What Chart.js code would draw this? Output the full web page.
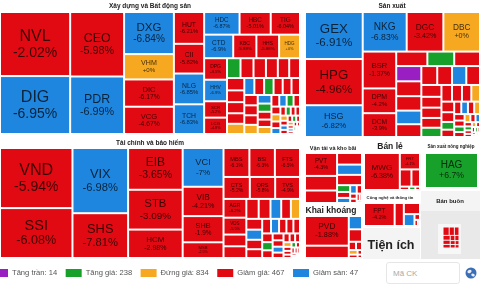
<!DOCTYPE html>
<html>
<head>
<meta charset="utf-8">
<script src="https://cdn.jsdelivr.net/npm/chart.js@4.4.1/dist/chart.umd.min.js"></script>
<style>
html, body { margin: 0; padding: 0; background: #fff; }
#wrap { position: relative; width: 480px; height: 288px; overflow: hidden; }
#ma { position: absolute; left: 386px; top: 262px; width: 74px; height: 22px; box-sizing: border-box;
      border: 1px solid #e6e6e6; border-radius: 3px; padding: 0 0 0 6px; font: 8px "Liberation Sans", Arial, sans-serif; color: #555; outline: none; }
#ma::placeholder { color: #aaa; }
</style>
</head>
<body>
<div id="wrap">
  <canvas id="heatmap" width="480" height="288"></canvas>
  <input id="ma" placeholder="Mã CK">
</div>
<script>
// Xây dựng và Bất động sản
var xdCodes = ['NVL','DIG','CEO','PDR','DXG','VHM','DIC','VCG','HUT','CII','NLG','TCH','HDC','HBC','TIG','CTD','KBC','HHS','HDG','DPG','HHV','SCR','LCG'];
var xdSizes = [4200,3800,3250,2900,1960,1180,1270,1270,900,840,870,840,750,660,620,640,510,500,460,460,460,350,350,
  250,240,230,220,210,200,200,190,180,170,165,160,155,150,145,140,135,130,125,120,
  115,110,105,100,95,90,85,80,75,70,65,60,55,50,45,42,40,38,35,32,
  30,28,26,24,22,20,18,16,15,14,12,10,9,8,7,6,5];
var xdChanges = [-2.02,-6.95,-5.98,-6.99,-6.84,0,-6.17,-4.67,-6.21,-5.82,-6.85,-6.83,-6.87,-5.01,-6.04,-6.9,-5.88,-5.88,0,-4.5,-6.9,-5.2,-4.8,
  1.2,-4.1,-3.8,-5.2,-4.4,-3.9,-4.6,-5.1,-3.3,-4.2,0,-6.9,-3.5,1.5,-4.0,-2.8,-4.9,-3.1,-5.5,-3.6,
  0,-6.9,2.1,-4.3,-3.2,0,-5.0,-6.9,1.1,-2.9,-4.7,0,-3.4,-6.9,-2.5,1.8,-4.5,-3.0,0,-5.3,
  -6.9,-2.2,-3.7,0.5,-4.8,0,-3.9,-6.9,-2.6,-4.1,-3.5,1.0,0,-6.9,-3.2,-2.7,0.9];
var xdStrips = [2,2,4,4,3,4,4];

// Tài chính và bảo hiểm
var tcCodes = ['VND','SSI','VIX','SHS','EIB','STB','HCM','VCI','VIB','SHB','MSB','MBS','BSI','FTS','CTS','ORS','TVS','AGR','VDS','BVS','APS','EVF','TCI'];
var tcSizes = [4070,3380,3390,2330,2130,2030,1450,1480,1120,1000,600,700,690,680,540,520,510,400,360,250,250,230,220,
  200,180,170,160,150,140,130,120,110,100,95,90,85,80,75,70,65,60,55,50,45,40,35,30,28,25,22,20,18,16,14,12,10,8,6];
var tcChanges = [-5.94,-6.08,-6.98,-7.81,-3.65,-3.09,-2.98,-7,-4.21,-1.9,-2.5,-6.1,-6.3,-6.5,-5.2,-5.8,-4.9,-6.2,-5.5,-6.6,-4.4,-6.9,-3.8,
  -6.9,-3.1,0,-4.2,-6.9,-2.7,-3.6,-5.0,-6.9,-2.9,-3.3,-4.5,-2.1,1.2,-3.9,-4.8,-2.4,-6.9,-3.0,-4.1,-2.6,-3.5,0,-4.0,-2.2,-3.8,1.0,-2.9,-3.4,
  -3.1,-4.4,-2.0,-6.9,-3.7,-2.5];
var tcStrips = [2,2,3,4,3,3];

// Sản xuất
var sxCodes = ['GEX','HPG','HSG','NKG','DGC','DBC','BSR','DPM','DCM','PLX','HT1','MSN','BMP','PHR','DHC','VNM','SAB','GVR'];
var sxSizes = [2620,2570,1770,1680,1400,1400,1190,800,770,435,375,360,
  370,360,350,330,310,290,270,260,250,230,210,200,190,180,170,160,150,140,130,120,
  95,90,85,80,75,70,65,60,55,50,45,40,35,30,28,25,22,20,18,16,14,12,10,8,7,6,5];
var sxChanges = [-6.91,-4.96,-6.82,-6.83,-3.42,0,-1.37,-4.2,-3.9,-3.5,1.8,-2.9,
  6.96,-4.1,-3.3,-6.9,-2.7,-4.4,-3.0,-6.9,-3.6,-2.5,-4.0,-3.1,-2.2,1.5,-3.7,-2.8,-4.3,0,-3.2,-2.6,
  2.0,-3.9,-2.4,-6.9,-3.0,0,-2.1,-3.5,1.2,-2.7,0,-3.8,-6.9,-2.3,0.8,-3.1,-2.9,0,-4.0,-2.5,1.0,-3.3,-2.0,-3.6,0,-2.8,-3.0];
var sxStrips = [3,3,3,3];

// small sectors
var vtCodes = ['PVT','HAH','GMD','VSC','HVN'];
var vtSizes = [660,420,360,260,230,230,80,70,60,50,40,30,25,20,15,10];
var vtChanges = [-4.3,-5.1,-5.6,-4.8,-6.9,-5.0,1.2,-3.9,-6.9,-6.9,-3.1,-2.5,-4.0,-3.3,-2.1,-3.0];
var vtStrips = [3,1,1,1];
var kkCodes = ['PVD','PVS','KSB','DHA'];
var kkSizes = [1300,540,176,165,60,50,40,30,20,15];
var kkChanges = [-1.88,-4.5,-6.9,-3.8,-2.9,-3.3,0,-2.2,-3.1,-2.0];
var kkStrips = [2];
var blCodes = ['MWG','FRT','DGW','PET'];
var blSizes = [1260,315,190,140,30,20,15];
var blChanges = [-6.38,-4.1,-5.3,-4.6,-3.0,1.4,-2.5];
var blStrips = [1,1,2];
var nnCodes = ['HAG'];
var nnSizes = [1855];
var nnChanges = [6.7];
var cnCodes = ['FPT','CMG','ELC','ITD'];
var cnSizes = [667,200,170,120,30,20,12];
var cnChanges = [-4.2,-5.0,-3.6,-6.9,-3.1,-2.4,-2.0];
var cnStrips = [1,1,1,1];
var bbThumbSizes = [60,50,45,40,35,30,28,25,22,20,18,15];

var hnxCodes = ['CEO','SHS','HUT','PVS','TIG','MBS','BVS','APS','EVF'];

var legendLabels = ['Tăng trần: 14','Tăng giá: 238','Đứng giá: 834','Giảm giá: 467','Giảm sàn: 47'];
var legendColors = ['#9a1fc2','#17a02a','#f6a821','#e20a12','#1f86e0'];

var cPurple = '#9a1fc2', cGreen = '#17a02a', cOrange = '#f6a821', cRed = '#e20a12', cBlue = '#1f86e0';
var FONT = '"Liberation Sans", Arial, sans-serif';

var panels = [
  {title: 'Xây dựng và Bất động sản', tx: 150, ty: 6, tf: 6.5, x0: 0, y0: 12, x1: 300, y1: 134, codes: xdCodes, sizes: xdSizes, changes: xdChanges, strips: xdStrips},
  {title: 'Tài chính và bảo hiểm', tx: 150, ty: 143, tf: 6.5, x0: 0, y0: 148, x1: 300, y1: 258, codes: tcCodes, sizes: tcSizes, changes: tcChanges, strips: tcStrips},
  {title: 'Sản xuất', tx: 392, ty: 6, tf: 6.5, x0: 305, y0: 12, x1: 480, y1: 137, codes: sxCodes, sizes: sxSizes, changes: sxChanges, strips: sxStrips},
  {title: 'Vận tải và kho bãi', tx: 333, ty: 148, tf: 5.5, x0: 305, y0: 153, x1: 362, y1: 203, codes: vtCodes, sizes: vtSizes, changes: vtChanges, strips: vtStrips},
  {title: 'Khai khoáng', tx: 331, ty: 211, tf: 8.5, x0: 305, y0: 216, x1: 362, y1: 258, codes: kkCodes, sizes: kkSizes, changes: kkChanges, strips: kkStrips},
  {title: 'Bán lẻ', tx: 390, ty: 147, tf: 8.5, x0: 364, y0: 153, x1: 420, y1: 190, codes: blCodes, sizes: blSizes, changes: blChanges, strips: blStrips},
  {title: 'Sản xuất nông nghiệp', tx: 451, ty: 147, tf: 4.5, x0: 425, y0: 153, x1: 478, y1: 188, codes: nnCodes, sizes: nnSizes, changes: nnChanges, strips: []},
  {title: 'Công nghệ và thông tin', tx: 390, ty: 198, tf: 4.2, x0: 364, y0: 203, x1: 420, y1: 226, codes: cnCodes, sizes: cnSizes, changes: cnChanges, strips: cnStrips}
];

// d3 style squarify (golden ratio), keeps input order; first rows can be given a fixed length
var phi = (1 + Math.sqrt(5)) / 2;
function squarify(values, x0, y0, x1, y1, strips) {
  strips = strips || [];
  var out = [], i0 = 0, i1 = 0, n = values.length, row = 0;
  var value = values.reduce(function(a, b) { return a + b; }, 0);
  while (i0 < n) {
    var dx = x1 - x0, dy = y1 - y0, sumValue, v;
    if (row < strips.length) {
      i1 = Math.min(n, i0 + strips[row]);
      sumValue = 0;
      for (var j = i0; j < i1; j++) sumValue += values[j];
    } else {
      sumValue = values[i1++];
      var minValue = sumValue, maxValue = sumValue;
      var alpha = Math.max(dy / dx, dx / dy) / (value * phi);
      var beta = sumValue * sumValue * alpha;
      var minRatio = Math.max(maxValue / beta, beta / minValue);
      for (; i1 < n; ++i1) {
        v = values[i1];
        sumValue += v;
        if (v < minValue) minValue = v;
        if (v > maxValue) maxValue = v;
        beta = sumValue * sumValue * alpha;
        var newRatio = Math.max(maxValue / beta, beta / minValue);
        if (newRatio > minRatio) { sumValue -= v; break; }
        minRatio = newRatio;
      }
    }
    var k, pos;
    if (dx < dy) {
      var ny = i1 >= n ? y1 : y0 + dy * sumValue / value;
      pos = x0;
      for (k = i0; k < i1; k++) {
        var w = dx * values[k] / sumValue;
        out[k] = {x0: pos, y0: y0, x1: pos + w, y1: ny};
        pos += w;
      }
      y0 = ny;
    } else {
      var nx = i1 >= n ? x1 : x0 + dx * sumValue / value;
      pos = y0;
      for (k = i0; k < i1; k++) {
        var h = dy * values[k] / sumValue;
        out[k] = {x0: x0, y0: pos, x1: nx, y1: pos + h};
        pos += h;
      }
      x0 = nx;
    }
    value -= sumValue;
    i0 = i1;
    row++;
  }
  return out;
}

function colorOf(code, ch) {
  var lim = hnxCodes.indexOf(code) >= 0 ? 10 : 7;
  if (ch >= lim - 0.25) return cPurple;
  if (ch <= -(lim - 0.25)) return cBlue;
  if (ch > 0) return cGreen;
  if (ch == 0) return cOrange;
  return cRed;
}

function fmtPct(ch) {
  return (ch >= 0 ? '+' : '') + parseFloat(ch.toFixed(2)) + '%';
}

var heatmapPlugin = {
  id: 'heatmap',
  afterDraw: function(chart) {
    var ctx = chart.ctx, xs = chart.scales.x, ys = chart.scales.y;
    function px(v) { return xs.getPixelForValue(v); }
    function py(v) { return ys.getPixelForValue(v); }
    ctx.save();

    // grey boxes: Tiện ích, Bán buôn
    ctx.fillStyle = '#f4f4f4';
    ctx.fillRect(px(363), py(228), px(420) - px(363), py(259) - py(228));
    ctx.fillRect(px(421), py(191), px(480) - px(421), py(259) - py(191));
    ctx.fillStyle = '#e9e9e9';
    ctx.fillRect(px(421), py(211), px(480) - px(421), py(259) - py(211));

    panels.forEach(function(p) {
      ctx.fillStyle = '#222';
      ctx.font = 'bold ' + p.tf + 'px ' + FONT;
      ctx.textAlign = 'center';
      ctx.textBaseline = 'middle';
      ctx.fillText(p.title, px(p.tx), py(p.ty));

      var rects = squarify(p.sizes, p.x0, p.y0, p.x1, p.y1, p.strips);
      rects.forEach(function(r, i) {
        var code = p.codes[i] || '';
        var ch = p.changes[i];
        var l = px(r.x0) + 1, t = py(r.y0) + 1, w = px(r.x1) - px(r.x0) - 2, h = py(r.y1) - py(r.y0) - 2;
        if (w <= 0 || h <= 0) return;
        ctx.fillStyle = colorOf(code, ch);
        ctx.fillRect(l, t, w, h);
        if (!code) return;
        var fp = Math.min(14, w / 4.8, h / 3.8);
        var ft = Math.min(16.5, fp * 1.15);
        if (fp < 3.6) return;
        var pct = fmtPct(ch);
        ctx.font = fp.toFixed(1) + 'px ' + FONT;
        if (ctx.measureText(pct).width > w - 1) return;
        ctx.fillStyle = 'rgba(0,0,0,0.74)';
        ctx.fillText(pct, l + w / 2, t + h / 2 + fp * 0.62);
        ctx.font = ft.toFixed(1) + 'px ' + FONT;
        ctx.fillText(code, l + w / 2, t + h / 2 - fp * 0.55);
      });
    });

    // Tiện ích / Bán buôn labels
    ctx.fillStyle = '#222';
    ctx.font = 'bold 12.5px ' + FONT;
    ctx.fillText('Tiện ích', px(391), py(246));
    ctx.font = 'bold 6px ' + FONT;
    ctx.fillText('Bán buôn', px(450), py(201));

    // thumbnail inside Bán buôn
    ctx.fillStyle = '#f7f7f7';
    ctx.fillRect(px(438), py(224), px(461) - px(438), py(254) - py(224));
    squarify(bbThumbSizes, 443, 227, 459, 248).forEach(function(r) {
      ctx.fillStyle = cRed;
      ctx.fillRect(px(r.x0) + 0.5, py(r.y0) + 0.5, px(r.x1) - px(r.x0) - 1, py(r.y1) - py(r.y0) - 1);
    });

    // legend
    ctx.font = '7.6px ' + FONT;
    ctx.textAlign = 'left';
    var lx = px(-8), ly = py(273);
    legendLabels.forEach(function(lab, i) {
      ctx.fillStyle = legendColors[i];
      ctx.fillRect(lx, ly - 4, 16, 8);
      ctx.fillStyle = '#555';
      ctx.fillText(lab, lx + 20, ly);
      lx += 20 + ctx.measureText(lab).width + 8.5;
    });

    // globe icon
    var gx = px(471), gy = py(273);
    ctx.fillStyle = '#3a6fb8';
    ctx.beginPath(); ctx.arc(gx, gy, 5.5, 0, Math.PI * 2); ctx.fill();
    ctx.fillStyle = '#e8eef7';
    ctx.beginPath(); ctx.ellipse(gx - 1.5, gy - 1.5, 2.2, 1.6, -0.5, 0, Math.PI * 2); ctx.fill();
    ctx.beginPath(); ctx.ellipse(gx + 2, gy + 2, 1.8, 1.4, 0.4, 0, Math.PI * 2); ctx.fill();
    ctx.restore();
  }
};

new Chart(document.getElementById('heatmap'), {
  type: 'scatter',
  data: { datasets: [{ data: [] }] },
  options: {
    responsive: false,
    animation: false,
    layout: { padding: 0 },
    plugins: { legend: { display: false }, tooltip: { enabled: false } },
    scales: {
      x: { type: 'linear', min: 0, max: 480, display: false },
      y: { type: 'linear', min: 0, max: 288, reverse: true, display: false }
    }
  },
  plugins: [heatmapPlugin]
});
</script>
</body>
</html>
